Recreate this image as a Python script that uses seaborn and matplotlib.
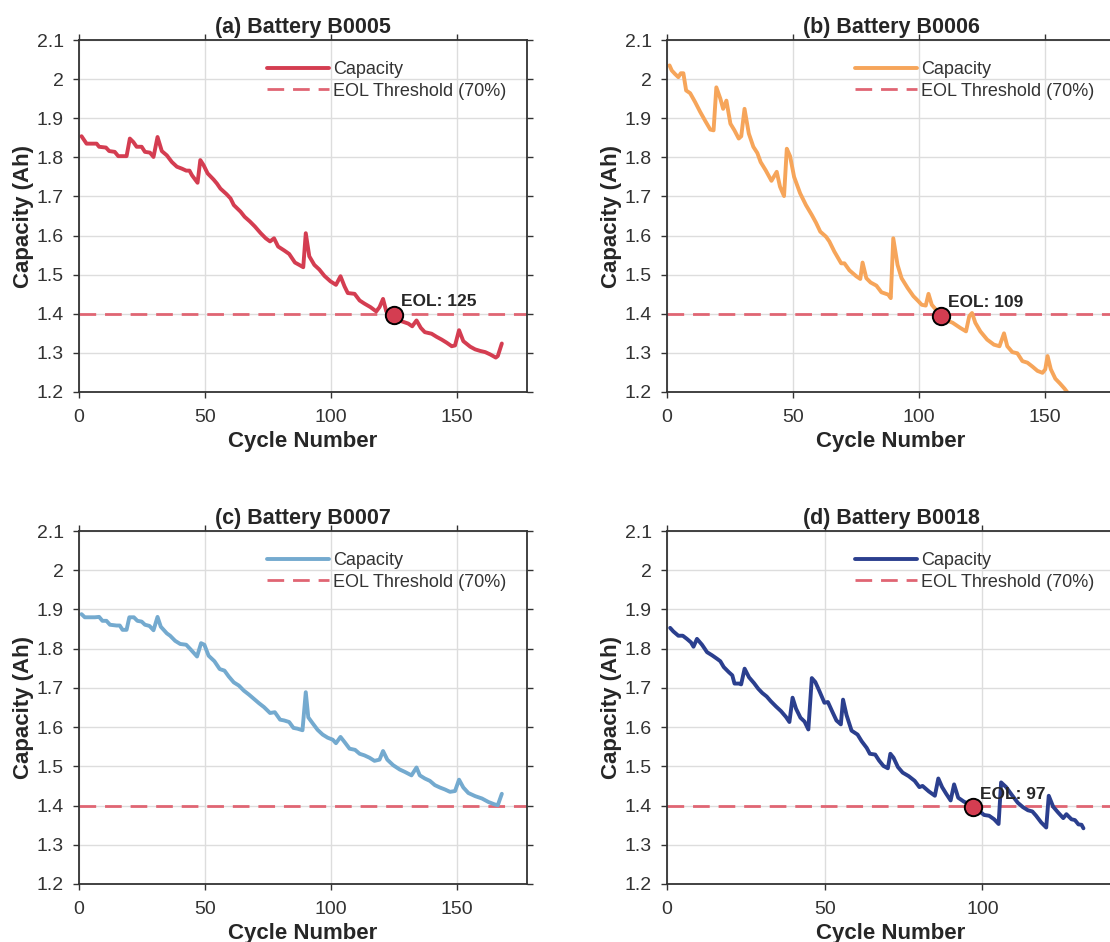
import numpy as np
import pandas as pd
import matplotlib
matplotlib.use("Agg")
import matplotlib.pyplot as plt
import seaborn as sns
from matplotlib.ticker import FuncFormatter

# ---------------- data ----------------
titles = ["(a) Battery B0005", "(b) Battery B0006", "(c) Battery B0007", "(d) Battery B0018"]
n_cycles = [168, 168, 168, 132]
colors = ["#D43D51", "#F6A55A", "#74AACF", "#2B3F8E"]

b0005_cycle = [1, 3, 7, 8, 10.7, 12, 14.2, 15.6, 18.9, 20.2, 21.6, 22.9, 24.9, 26.2, 28.2, 29.6,
               31.2, 32.9, 34.9, 36.9, 38.9, 40.9, 42.6, 43.9, 44.9, 47.1, 48.2, 49.5, 51.1, 53.5,
               54.8, 56.2, 58.6, 60.2, 61.5, 64.2, 65.8, 67.9, 69.9, 72.2, 74.2, 75.9, 77.5, 79.1,
               81.5, 83.5, 85.8, 87.5, 89.1, 90.1, 91.5, 93.5, 95.5, 97.5, 99.9, 102.1, 103.9, 105.5,
               106.8, 109.5, 111.5, 113.4, 115.8, 118.1, 119.4, 120.8, 122.1, 125, 128.1, 130.8,
               132.4, 134.1, 135.8, 137.4, 140.1, 142.1, 144.1, 146.1, 148.1, 149.4, 151, 152.7,
               155.4, 157.4, 159.4, 161.4, 163.4, 165.6, 166.4, 168]
b0005_cap = [1.854, 1.835, 1.835, 1.827, 1.825, 1.816, 1.814, 1.803, 1.803, 1.848, 1.839, 1.827,
             1.827, 1.814, 1.812, 1.801, 1.852, 1.816, 1.805, 1.788, 1.776, 1.771, 1.766, 1.766,
             1.754, 1.735, 1.793, 1.780, 1.759, 1.743, 1.733, 1.720, 1.706, 1.695, 1.678, 1.661,
             1.648, 1.636, 1.623, 1.606, 1.593, 1.585, 1.593, 1.572, 1.562, 1.553, 1.531, 1.525,
             1.519, 1.606, 1.547, 1.525, 1.513, 1.497, 1.483, 1.474, 1.496, 1.470, 1.453, 1.451,
             1.434, 1.426, 1.417, 1.406, 1.417, 1.438, 1.406, 1.397, 1.381, 1.375, 1.368, 1.383,
             1.364, 1.353, 1.349, 1.341, 1.334, 1.326, 1.317, 1.319, 1.358, 1.330, 1.316, 1.309,
             1.305, 1.302, 1.296, 1.288, 1.292, 1.324]

b0006_cycle = [1, 1.9, 3.2, 4.5, 5.5, 6.5, 7.6, 9.2, 11.2, 13.2, 15.2, 17.2, 18.5, 19.6, 21.2, 22.3,
               23.6, 25.2, 26.8, 28.5, 29.5, 30.8, 32.5, 34.3, 35.9, 37.2, 39.2, 41.5, 43.6, 44.9,
               46.5, 47.6, 48.9, 50.5, 52.9, 55.2, 57.5, 59.2, 60.9, 63.2, 64.5, 66.5, 69.2, 70.5,
               72.5, 75.2, 76.8, 77.7, 79.2, 80.9, 83.2, 85.2, 87.9, 88.9, 89.9, 91.6, 93.2, 95.6,
               97.9, 99.9, 101.2, 102.8, 103.9, 105.2, 106.8, 109, 111.2, 113.5, 116.5, 118.8,
               120.1, 121.2, 122.5, 124.5, 127.2, 129.9, 132.1, 133.9, 135.2, 137.2, 139.2, 141.2,
               143.2, 145.2, 147.2, 149.2, 150.3, 151.2, 152.5, 154.3, 156.1, 157.9, 159.2, 162,
               165, 168]
b0006_cap = [2.035, 2.022, 2.013, 2.005, 2.015, 2.015, 1.971, 1.964, 1.941, 1.916, 1.893, 1.871,
             1.869, 1.979, 1.950, 1.924, 1.945, 1.886, 1.869, 1.848, 1.854, 1.924, 1.861, 1.827,
             1.811, 1.788, 1.767, 1.740, 1.763, 1.725, 1.701, 1.822, 1.803, 1.750, 1.708, 1.678,
             1.653, 1.633, 1.610, 1.597, 1.585, 1.559, 1.529, 1.529, 1.511, 1.496, 1.489, 1.531,
             1.491, 1.480, 1.472, 1.455, 1.449, 1.440, 1.593, 1.525, 1.491, 1.466, 1.445, 1.432,
             1.423, 1.421, 1.451, 1.423, 1.411, 1.395, 1.383, 1.377, 1.364, 1.355, 1.394, 1.402,
             1.377, 1.355, 1.334, 1.321, 1.317, 1.350, 1.317, 1.302, 1.299, 1.279, 1.275, 1.265,
             1.254, 1.249, 1.258, 1.292, 1.258, 1.234, 1.222, 1.209, 1.198, 1.180, 1.165, 1.155]

b0007_cycle = [1, 2.3, 4.3, 6.3, 8, 9.3, 10.9, 12.3, 14.9, 16.2, 17.3, 18.9, 20, 21.8, 23.2, 24.9,
               26.2, 28, 29.6, 31.2, 32.5, 34.9, 36.2, 38.2, 40.2, 42.6, 44.5, 46.9, 48.5, 49.8,
               51.5, 53.8, 55.9, 57.8, 59.5, 61.5, 63.5, 65.5, 67.5, 69.5, 71.5, 73.5, 75.9, 77.8,
               79.9, 81.5, 83.5, 85.2, 86.8, 88.8, 90.1, 91.1, 92.8, 94.8, 96.8, 98.8, 100.8, 102.1,
               103.9, 105.5, 107.5, 109.7, 111.5, 113.4, 115.4, 117.4, 119.4, 120.8, 122.5, 124.8,
               127.4, 129.4, 132.1, 134.1, 135.4, 137.4, 139.4, 141.4, 143.4, 145.4, 147.4, 149.4,
               151, 152.7, 154.7, 157.4, 160.1, 162.7, 165.1, 166.4, 168]
b0007_cap = [1.888, 1.880, 1.880, 1.880, 1.881, 1.871, 1.871, 1.861, 1.859, 1.859, 1.848, 1.848,
             1.880, 1.880, 1.871, 1.869, 1.861, 1.858, 1.847, 1.881, 1.856, 1.839, 1.833, 1.820,
             1.812, 1.810, 1.797, 1.780, 1.814, 1.810, 1.782, 1.768, 1.748, 1.744, 1.729, 1.714,
             1.706, 1.693, 1.683, 1.672, 1.661, 1.651, 1.636, 1.638, 1.619, 1.617, 1.613, 1.598,
             1.596, 1.592, 1.689, 1.625, 1.610, 1.593, 1.581, 1.573, 1.568, 1.559, 1.575, 1.562,
             1.545, 1.542, 1.532, 1.528, 1.522, 1.514, 1.517, 1.539, 1.517, 1.503, 1.492, 1.486,
             1.477, 1.497, 1.477, 1.469, 1.463, 1.452, 1.446, 1.441, 1.435, 1.437, 1.466, 1.446,
             1.432, 1.424, 1.418, 1.409, 1.403, 1.401, 1.430]

b0018_cycle = [1, 2, 3.6, 5, 6.3, 7.6, 8.4, 9.5, 11.1, 12.7, 14.3, 15.9, 16.9, 18, 19.6, 20.7, 21.4,
               22.8, 23.5, 24.6, 26, 27.6, 28.9, 30.2, 31.6, 32.9, 34.5, 36.1, 37.7, 38.8, 39.8,
               40.9, 42.3, 43.6, 44.8, 45.9, 47, 48.3, 49.9, 51, 52.3, 53.7, 55.1, 55.8, 56.9, 58.5,
               60.4, 61.7, 63.3, 64.3, 66, 67.2, 68.6, 70, 70.8, 71.8, 73.2, 74.7, 76.6, 78.5, 80,
               81, 83, 84.9, 86, 87.2, 88.5, 89.9, 91, 92.3, 94.1, 95.5, 97, 98.7, 100.5, 102.1,
               103.7, 105.1, 105.9, 107.5, 109.4, 111.2, 112.8, 114.4, 115.8, 117, 118.6, 120.2,
               121, 122.4, 124, 125.6, 126.6, 128.2, 129.3, 130.4, 131.4, 132]
b0018_cap = [1.853, 1.844, 1.833, 1.833, 1.825, 1.816, 1.805, 1.825, 1.810, 1.791, 1.783, 1.774,
             1.768, 1.753, 1.740, 1.732, 1.711, 1.711, 1.709, 1.749, 1.727, 1.712, 1.698, 1.687,
             1.678, 1.666, 1.653, 1.641, 1.626, 1.613, 1.675, 1.647, 1.624, 1.614, 1.594, 1.725,
             1.715, 1.692, 1.662, 1.664, 1.641, 1.617, 1.607, 1.670, 1.631, 1.591, 1.581, 1.564,
             1.547, 1.532, 1.530, 1.515, 1.501, 1.495, 1.532, 1.522, 1.498, 1.484, 1.475, 1.463,
             1.447, 1.450, 1.436, 1.425, 1.469, 1.447, 1.430, 1.413, 1.454, 1.420, 1.410, 1.405,
             1.396, 1.388, 1.376, 1.374, 1.365, 1.353, 1.459, 1.447, 1.426, 1.407, 1.396, 1.388,
             1.385, 1.374, 1.357, 1.344, 1.425, 1.397, 1.382, 1.368, 1.378, 1.365, 1.363, 1.352,
             1.351, 1.342]

cycles = [b0005_cycle, b0006_cycle, b0007_cycle, b0018_cycle]
capacities = [b0005_cap, b0006_cap, b0007_cap, b0018_cap]

eol_cycle = [125, 109, None, 97]
eol_capacity = [1.397, 1.395, None, 1.396]
threshold = 1.4  # 70% of 2.0 Ah nominal

y_ticks = [1.2, 1.3, 1.4, 1.5, 1.6, 1.7, 1.8, 1.9, 2.0, 2.1]
x_ticks = [0, 50, 100, 150]

# ---------------- style ----------------
sns.set_theme(style="whitegrid")
plt.rcParams["font.family"] = ["Liberation Sans", "DejaVu Sans"]
plt.rcParams["text.color"] = "#262626"

W, H = 1110, 942
fig = plt.figure(figsize=(W / 100, H / 100), dpi=100)

# axes boxes in pixels: left, top, width, height
boxes = [(79, 40, 448, 352), (667, 40, 448, 352), (79, 531, 448, 353), (667, 531, 448, 353)]

for i in range(4):
    l, t, w, h = boxes[i]
    ax = fig.add_axes([l / W, 1 - (t + h) / H, w / W, h / H])
    df = pd.DataFrame({"Cycle": cycles[i], "Capacity": capacities[i]})
    sns.lineplot(data=df, x="Cycle", y="Capacity", ax=ax, color=colors[i], lw=2.8,
                 label="Capacity", sort=False, estimator=None)
    ax.axhline(threshold, color="#E06573", lw=2.0, dashes=(6, 3.2),
               label="EOL Threshold (70%)", zorder=1.5)
    if eol_cycle[i] is not None:
        ax.plot([eol_cycle[i]], [eol_capacity[i]], "o", ms=12.5, mfc="#D43D51",
                mec="black", mew=1.4, zorder=5)
        ax.annotate(f"EOL: {eol_cycle[i]}", (eol_cycle[i], eol_capacity[i]),
                    xytext=(5, 4), textcoords="offset points", ha="left", va="bottom",
                    fontsize=12.5, fontweight="bold", color="#262626", zorder=6)

    ax.set_xticks(x_ticks)
    ax.set_yticks(y_ticks)
    ax.set_xlim(0, n_cycles[i] + 10)
    ax.set_ylim(1.2, 2.1)
    ax.yaxis.set_major_formatter(FuncFormatter(lambda v, p: f"{v:g}"))
    ax.grid(True, color="#DDDDDD", lw=1.0)
    for s in ax.spines.values():
        s.set_visible(True)
        s.set_color("#333333")
        s.set_linewidth(1.3)
    ax.tick_params(axis="both", which="major", direction="out", length=4, width=1.0,
                   color="#333333", labelsize=14, labelcolor="#333333",
                   top=True, right=True, bottom=True, left=True)
    ax.tick_params(axis="x", pad=8)
    ax.tick_params(axis="y", pad=7)
    ax.set_title(titles[i], fontsize=15.5, fontweight="bold", pad=5, color="#262626")
    ax.set_xlabel("Cycle Number", fontsize=16, fontweight="bold", labelpad=4)
    ax.set_ylabel("Capacity (Ah)", fontsize=16, fontweight="bold", labelpad=1.5)
    leg = ax.legend(loc="upper left", bbox_to_anchor=(0.42, 0.94), frameon=False,
                    fontsize=13, handlelength=3.4, handletextpad=0.25,
                    labelspacing=0.25, borderpad=0, borderaxespad=0)
    for txt in leg.get_texts():
        txt.set_color("#333333")

fig.savefig("out.png", dpi=100)
